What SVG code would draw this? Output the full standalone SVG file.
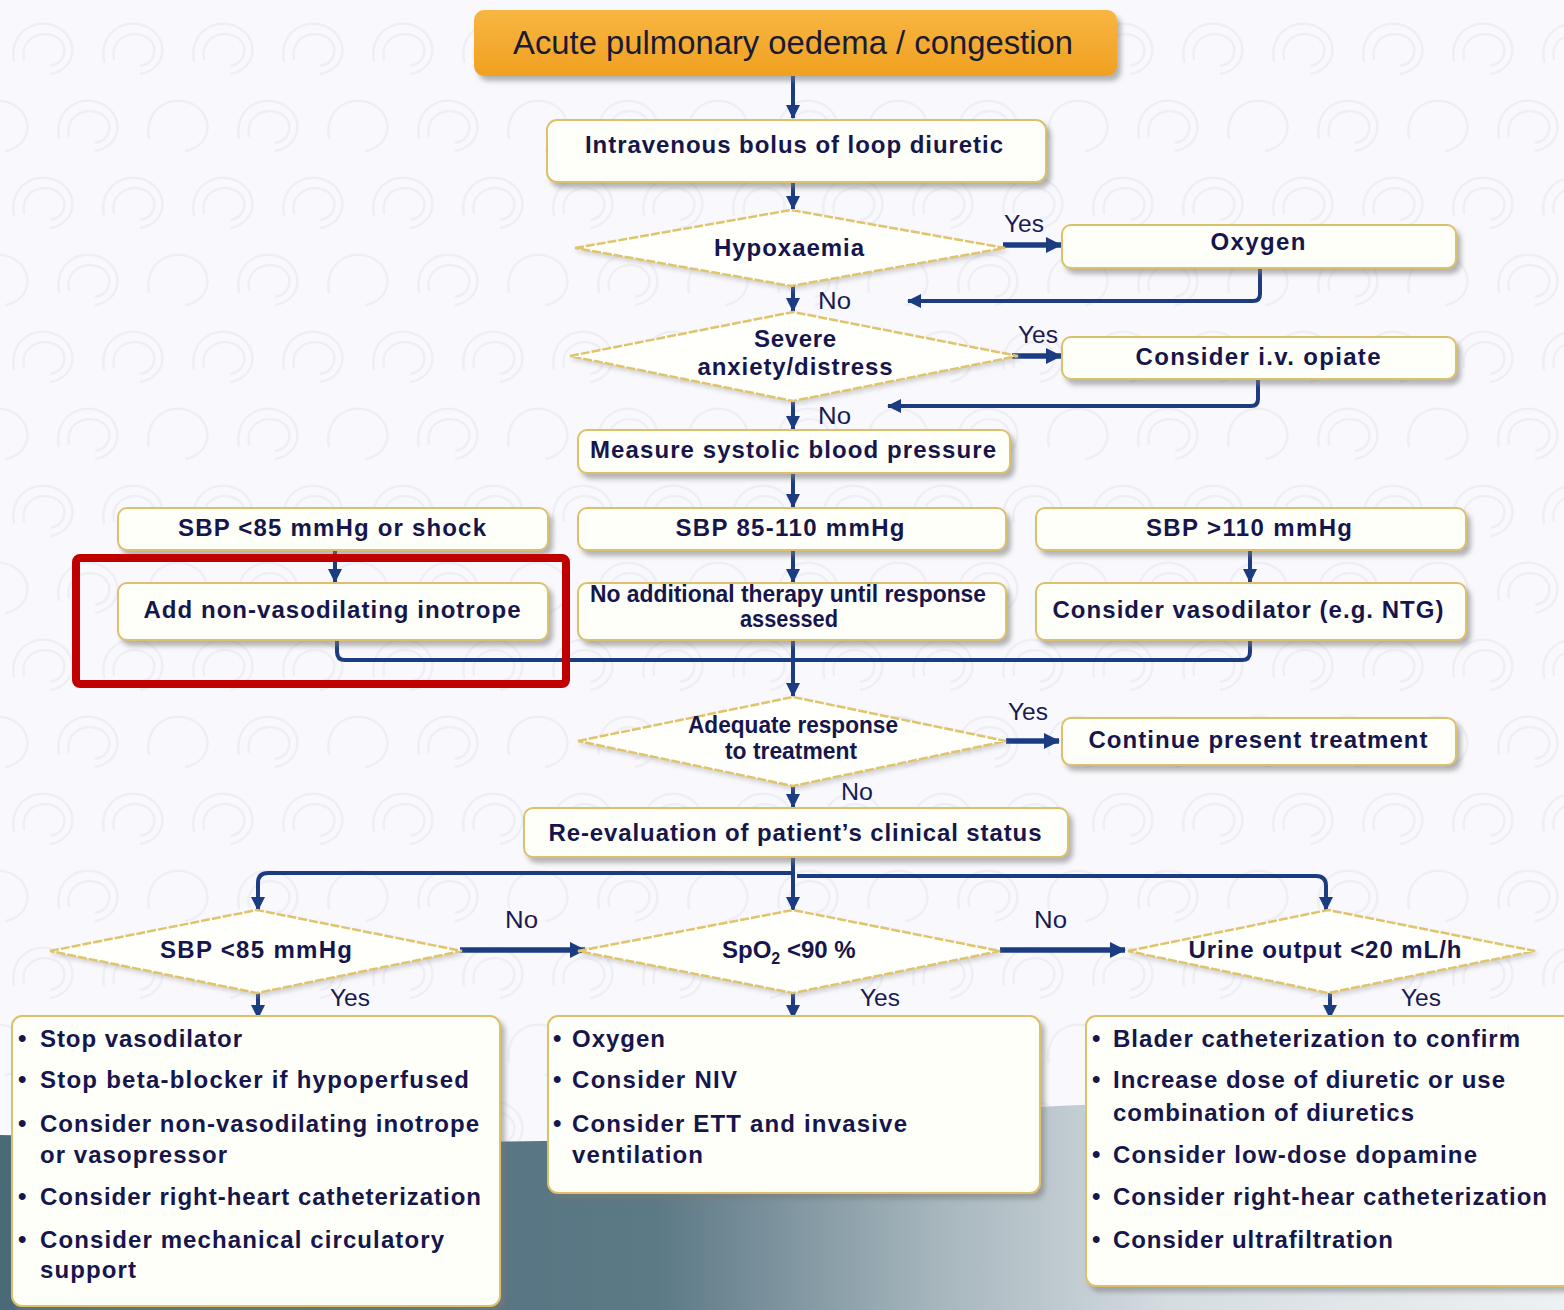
<svg xmlns="http://www.w3.org/2000/svg" width="1564" height="1310" viewBox="0 0 1564 1310">
<defs>
<style>
.t{font-family:"Liberation Sans",Arial,sans-serif;font-weight:bold;fill:#16164c;font-size:24px;text-anchor:middle}
.s{font-family:"Liberation Sans",Arial,sans-serif;font-weight:bold;fill:#16164c;font-size:24px}
.lab{font-family:"Liberation Sans",Arial,sans-serif;fill:#1b1b50;font-size:23px}
.box{fill:#fffffa;stroke:#dcc06a;stroke-width:2;filter:url(#sh)}
.dia{fill:#fffffb;stroke:#e0c46c;stroke-width:2.5;stroke-dasharray:9 2;filter:url(#sh2)}
.c{fill:none;stroke:#1c3c82;stroke-width:4;stroke-linejoin:round}
.ca{fill:none;stroke:#1c3c82;stroke-width:4;stroke-linejoin:round;marker-end:url(#ah)}
.cb{fill:none;stroke:#1c3c82;stroke-width:5.5;marker-end:url(#ah2)}
</style>
<marker id="ah" markerUnits="userSpaceOnUse" markerWidth="14" markerHeight="14" refX="13" refY="7" orient="auto">
<path d="M0,0 L14,7 L0,14 Z" fill="#1c3c82"/>
</marker>
<marker id="ah2" markerUnits="userSpaceOnUse" markerWidth="16" markerHeight="16" refX="15" refY="8" orient="auto">
<path d="M0,0 L16,8 L0,16 Z" fill="#1c3c82"/>
</marker>
<filter id="sh" x="-10%" y="-20%" width="125%" height="150%">
<feDropShadow dx="4" dy="5" stdDeviation="2.5" flood-color="#7a7a7a" flood-opacity="0.55"/>
</filter>
<filter id="sh2" x="-10%" y="-20%" width="125%" height="150%">
<feDropShadow dx="2" dy="3" stdDeviation="2" flood-color="#9a9a9a" flood-opacity="0.4"/>
</filter>
<linearGradient id="og" x1="0" y1="0" x2="0" y2="1">
<stop offset="0" stop-color="#f8b642"/>
<stop offset="1" stop-color="#f0a020"/>
</linearGradient>
<linearGradient id="land" x1="0" y1="0" x2="1" y2="0">
<stop offset="0" stop-color="#4a6a78"/>
<stop offset="0.42" stop-color="#5c7986"/>
<stop offset="0.6" stop-color="#a7b6bd"/>
<stop offset="0.75" stop-color="#d5dde1"/>
<stop offset="1" stop-color="#eef1f3"/>
</linearGradient>
<pattern id="sw" width="180" height="154" patternUnits="userSpaceOnUse">
<g fill="none" stroke="#eeeef5" stroke-width="2.5">
<path d="M14,62 C8,30 40,14 62,30 C80,44 74,70 50,74"/>
<path d="M24,60 C20,38 42,28 58,38 C70,48 64,64 50,66"/>
<path d="M104,62 C98,30 130,14 152,30 C170,44 164,70 140,74"/>
<path d="M114,60 C110,38 132,28 148,38 C160,48 154,64 140,66"/>
<path d="M59,139 C53,107 85,91 107,107 C125,121 119,147 95,151"/>
<path d="M69,137 C65,115 87,105 103,115 C115,125 109,141 95,143"/>
<path d="M149,139 C143,107 175,91 197,107"/>
<path d="M-31,139 C-37,107 -5,91 17,107 C35,121 29,147 5,151"/>
</g>
</pattern>
</defs>

<g id="background">
<rect x="0" y="0" width="1564" height="1310" fill="#f9f9fd"/>
<rect x="0" y="0" width="1564" height="1310" fill="url(#sw)"/>
<path d="M0,1135 C300,1140 600,1150 800,1128 C950,1110 1050,1100 1564,1095 L1564,1310 L0,1310 Z" fill="url(#land)"/>
</g>

<g id="connectors">
<path class="ca" d="M793,76 V118"/>
<path class="ca" d="M793,182 V209"/>
<path class="cb" d="M1003,245 H1061"/>
<path class="ca" d="M1260,268 V294 Q1260,301 1253,301 H908"/>
<path class="ca" d="M793,286 V311"/>
<path class="cb" d="M1012,356 H1061"/>
<path class="ca" d="M1258,380 V399 Q1258,406 1251,406 H888"/>
<path class="ca" d="M793,401 V429"/>
<path class="ca" d="M793,473 V507"/>
<path class="ca" d="M335,550 V582"/>
<path class="ca" d="M793,550 V582"/>
<path class="ca" d="M1250,550 V582"/>
<path class="c" d="M337,640 V652 Q337,660 345,660 H793"/>
<path class="c" d="M1250,640 V652 Q1250,660 1242,660 H793"/>
<path class="ca" d="M793,640 V696"/>
<path class="cb" d="M1006,741 H1059"/>
<path class="ca" d="M793,786 V807"/>
<path class="ca" d="M793,857 V910"/>
<path class="ca" d="M793,873 H268 Q258,873 258,883 V910"/>
<path class="ca" d="M797,876 H1316 Q1326,876 1326,886 V910"/>
<path class="cb" d="M460,950 H585"/>
<path class="cb" d="M1000,950 H1125"/>
<path class="ca" d="M258,993 V1018"/>
<path class="ca" d="M793,993 V1018"/>
<path class="ca" d="M1330,993 V1018"/>
</g>

<g id="labels">
<text class="lab" x="1004" y="232" textLength="40" lengthAdjust="spacingAndGlyphs">Yes</text>
<text class="lab" x="818" y="309" textLength="33" lengthAdjust="spacingAndGlyphs">No</text>
<text class="lab" x="1018" y="343" textLength="40" lengthAdjust="spacingAndGlyphs">Yes</text>
<text class="lab" x="818" y="424" textLength="33" lengthAdjust="spacingAndGlyphs">No</text>
<text class="lab" x="1008" y="720" textLength="40" lengthAdjust="spacingAndGlyphs">Yes</text>
<text class="lab" x="841" y="800" textLength="32" lengthAdjust="spacingAndGlyphs">No</text>
<text class="lab" x="505" y="928" textLength="33" lengthAdjust="spacingAndGlyphs">No</text>
<text class="lab" x="1034" y="928" textLength="33" lengthAdjust="spacingAndGlyphs">No</text>
<text class="lab" x="330" y="1006" textLength="40" lengthAdjust="spacingAndGlyphs">Yes</text>
<text class="lab" x="860" y="1006" textLength="40" lengthAdjust="spacingAndGlyphs">Yes</text>
<text class="lab" x="1401" y="1006" textLength="40" lengthAdjust="spacingAndGlyphs">Yes</text>
</g>

<g id="n-title">
<rect x="474" y="10" width="643" height="66" rx="10" fill="url(#og)" filter="url(#sh)"/>
<text x="793" y="54" font-family="'Liberation Sans',Arial,sans-serif" font-size="33" fill="#1a1a33" text-anchor="middle" textLength="560" lengthAdjust="spacingAndGlyphs">Acute pulmonary oedema / congestion</text>
</g>

<g id="n-bolus">
<rect class="box" x="547" y="120" width="499" height="62" rx="10"/>
<text class="t" x="794" y="153" textLength="418">Intravenous bolus of loop diuretic</text>
</g>

<g id="n-hypox">
<polygon class="dia" points="575,248 791,210 1005,248 791,286"/>
<text class="t" x="789" y="256" textLength="150">Hypoxaemia</text>
</g>

<g id="n-oxygen">
<rect class="box" x="1062" y="225" width="394" height="43" rx="9"/>
<text class="t" x="1258" y="250" textLength="95">Oxygen</text>
</g>

<g id="n-anxiety">
<polygon class="dia" points="570,356 793,312 1018,356 793,401"/>
<text class="t" x="795" y="347" textLength="82">Severe</text>
<text class="t" x="795" y="375" textLength="195">anxiety/distress</text>
</g>

<g id="n-opiate">
<rect class="box" x="1062" y="337" width="394" height="42" rx="9"/>
<text class="t" x="1258" y="365" textLength="245">Consider  i.v. opiate</text>
</g>

<g id="n-measure">
<rect class="box" x="578" y="430" width="432" height="43" rx="9"/>
<text class="t" x="793" y="458" textLength="406">Measure systolic blood pressure</text>
</g>

<g id="n-sbp-low">
<rect class="box" x="118" y="508" width="430" height="42" rx="9"/>
<text class="t" x="332" y="536" textLength="308">SBP &lt;85 mmHg or shock</text>
</g>

<g id="n-sbp-mid">
<rect class="box" x="578" y="508" width="428" height="42" rx="9"/>
<text class="t" x="790" y="536" textLength="229">SBP 85-110 mmHg</text>
</g>

<g id="n-sbp-high">
<rect class="box" x="1036" y="508" width="430" height="42" rx="9"/>
<text class="t" x="1249" y="536" textLength="206">SBP &gt;110 mmHg</text>
</g>

<g id="n-inotrope">
<rect class="box" x="118" y="583" width="430" height="57" rx="9"/>
<text class="t" x="332" y="618" textLength="377">Add non-vasodilating inotrope</text>
</g>

<g id="n-noadd">
<rect class="box" x="578" y="583" width="428" height="57" rx="9"/>
<text class="t" x="788" y="602" font-size="19" textLength="396" lengthAdjust="spacingAndGlyphs">No additional therapy until response</text>
<text class="t" x="789" y="627" font-size="19" textLength="98" lengthAdjust="spacingAndGlyphs">assessed</text>
</g>

<g id="n-vasodil">
<rect class="box" x="1036" y="583" width="430" height="57" rx="9"/>
<text class="t" x="1248" y="618" textLength="391">Consider vasodilator (e.g. NTG)</text>
</g>

<g id="highlight">
<rect x="76" y="558" width="490" height="126" rx="4" fill="none" stroke="#c00000" stroke-width="8"/>
</g>

<g id="n-adequate">
<polygon class="dia" points="578,741 793,697 1006,741 793,786"/>
<text class="t" x="793" y="733" font-size="20" textLength="210" lengthAdjust="spacingAndGlyphs">Adequate response</text>
<text class="t" x="791" y="759" font-size="20" textLength="132" lengthAdjust="spacingAndGlyphs">to treatment</text>
</g>

<g id="n-continue">
<rect class="box" x="1062" y="718" width="394" height="47" rx="9"/>
<text class="t" x="1258" y="748" textLength="339">Continue present treatment</text>
</g>

<g id="n-reeval">
<rect class="box" x="524" y="808" width="544" height="49" rx="9"/>
<text class="t" x="795" y="841" textLength="493">Re-evaluation of patient’s clinical status</text>
</g>

<g id="n-sbp85">
<polygon class="dia" points="50,951 257,910 462,951 257,993"/>
<text class="t" x="256" y="958" textLength="192">SBP &lt;85 mmHg</text>
</g>

<g id="n-spo2">
<polygon class="dia" points="578,951 793,910 1000,951 793,993"/>
<text class="s" x="722" y="958">SpO<tspan font-size="16" dy="6">2</tspan><tspan dy="-6"> &lt;90 %</tspan></text>
</g>

<g id="n-urine">
<polygon class="dia" points="1128,951 1328,910 1535,951 1328,993"/>
<text class="t" x="1325" y="958" textLength="273">Urine output &lt;20 mL/h</text>
</g>

<g id="n-list-left">
<rect class="box" x="12" y="1016" width="488" height="290" rx="10"/>
<text class="s" x="18" y="1046">•</text>
<text class="s" x="40" y="1047" textLength="202">Stop vasodilator</text>
<text class="s" x="18" y="1087">•</text>
<text class="s" x="40" y="1088" textLength="429">Stop beta-blocker if  hypoperfused</text>
<text class="s" x="18" y="1131">•</text>
<text class="s" x="40" y="1132" textLength="439">Consider non-vasodilating inotrope</text>
<text class="s" x="40" y="1163" textLength="187">or vasopressor</text>
<text class="s" x="18" y="1204">•</text>
<text class="s" x="40" y="1205" textLength="441">Consider right-heart catheterization</text>
<text class="s" x="18" y="1247">•</text>
<text class="s" x="40" y="1248" textLength="404">Consider mechanical circulatory</text>
<text class="s" x="40" y="1278" textLength="96">support</text>
</g>

<g id="n-list-mid">
<rect class="box" x="548" y="1016" width="492" height="177" rx="10"/>
<text class="s" x="553" y="1046">•</text>
<text class="s" x="572" y="1047" textLength="93">Oxygen</text>
<text class="s" x="553" y="1087">•</text>
<text class="s" x="572" y="1088" textLength="165">Consider NIV</text>
<text class="s" x="553" y="1131">•</text>
<text class="s" x="572" y="1132" textLength="335">Consider ETT and invasive</text>
<text class="s" x="572" y="1163" textLength="131">ventilation</text>
</g>

<g id="n-list-right">
<rect class="box" x="1086" y="1016" width="490" height="270" rx="10"/>
<text class="s" x="1092" y="1046">•</text>
<text class="s" x="1113" y="1047" textLength="407">Blader catheterization to confirm</text>
<text class="s" x="1092" y="1087">•</text>
<text class="s" x="1113" y="1088" textLength="392">Increase dose of diuretic or use</text>
<text class="s" x="1113" y="1121" textLength="301">combination of diuretics</text>
<text class="s" x="1092" y="1162">•</text>
<text class="s" x="1113" y="1163" textLength="364">Consider low-dose dopamine</text>
<text class="s" x="1092" y="1204">•</text>
<text class="s" x="1113" y="1205" textLength="434">Consider right-hear catheterization</text>
<text class="s" x="1092" y="1247">•</text>
<text class="s" x="1113" y="1248" textLength="280">Consider ultrafiltration</text>
</g>
</svg>
